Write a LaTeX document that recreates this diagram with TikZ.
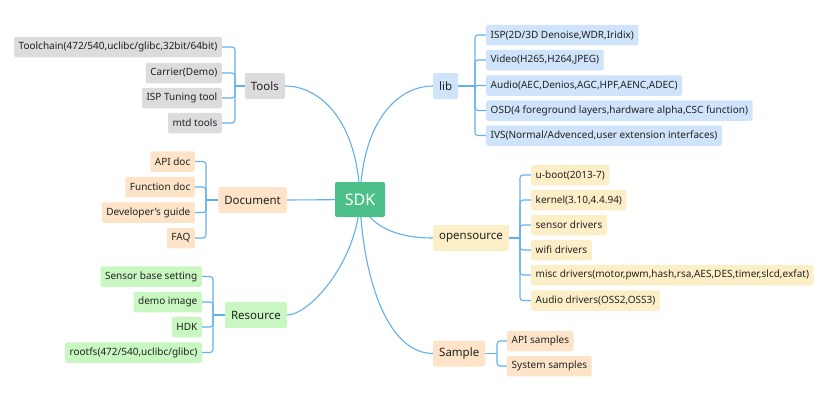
\documentclass[tikz,border=0pt]{standalone}
\usepackage{fontspec}
\setmainfont{Noto Sans}
\usetikzlibrary{backgrounds}
\definecolor{linkblue}{HTML}{62B0EE}
\definecolor{sdkgreen}{HTML}{4DBF88}
\definecolor{toolgray}{HTML}{DCDCDC}
\definecolor{docpeach}{HTML}{FDE4C8}
\definecolor{resgreen}{HTML}{C8F7C2}
\definecolor{libblue}{HTML}{CFE4FB}
\definecolor{osyellow}{HTML}{FCEFC7}
\definecolor{inkgray}{HTML}{222222}
\tikzstyle{root} = [rectangle, rounded corners=2pt, fill=sdkgreen, text=white,
minimum width=50pt, minimum height=35pt, font=\fontsize{16}{18}\selectfont]
\tikzstyle{branch} = [rectangle, rounded corners=2pt, minimum height=26pt,
inner xsep=6pt, text=inkgray, font=\fontsize{11.5}{13}\selectfont]
\tikzstyle{leaf} = [rectangle, rounded corners=2pt, minimum height=20.5pt,
inner xsep=4.5pt, text=inkgray, font=\fontsize{10}{11}\selectfont]
\tikzstyle{link} = [draw=linkblue, line width=1.1pt]
\tikzstyle{elbow} = [link, rounded corners=3pt]

\begin{document}
\begin{tikzpicture}[x=1pt,y=-1pt]
\useasboundingbox (0,0) rectangle (821,405);
% root
\node[root] (sdk) at (360,199.5) {SDK};
% Tools
\node[branch, fill=toolgray, anchor=east] (tools) at (285,86) {Tools};
\node[leaf, fill=toolgray, anchor=east] (toolchain) at (222,47) {Toolchain(472/540,uclibc/glibc,32bit/64bit)};
\node[leaf, fill=toolgray, anchor=east] (carrier) at (222,73) {Carrier(Demo)};
\node[leaf, fill=toolgray, anchor=east] (isptool) at (222,98) {ISP Tuning tool};
\node[leaf, fill=toolgray, anchor=east] (mtd) at (222,123) {mtd tools};
\coordinate (toolsj) at (235,86);
% Document
\node[branch, fill=docpeach, anchor=east] (document) at (287,200) {Document};
\node[leaf, fill=docpeach, anchor=east] (apidoc) at (195,161.5) {API doc};
\node[leaf, fill=docpeach, anchor=east] (funcdoc) at (195,187) {Function doc};
\node[leaf, fill=docpeach, anchor=east] (devguide) at (195,212.5) {Developer's guide};
\node[leaf, fill=docpeach, anchor=east] (faq) at (195,238) {FAQ};
\coordinate (documentj) at (206,200);
% Resource
\node[branch, fill=resgreen, anchor=east] (resource) at (287,315) {Resource};
\node[leaf, fill=resgreen, anchor=east] (sensorbase) at (202,276.5) {Sensor base setting};
\node[leaf, fill=resgreen, anchor=east] (demoimg) at (202,302) {demo image};
\node[leaf, fill=resgreen, anchor=east] (hdk) at (202,327) {HDK};
\node[leaf, fill=resgreen, anchor=east] (rootfs) at (202,352.5) {rootfs(472/540,uclibc/glibc)};
\coordinate (resourcej) at (213,315);
% lib
\node[branch, fill=libblue, anchor=west] (lib) at (433,86) {lib};
\node[leaf, fill=libblue, anchor=west] (isp) at (486,35) {ISP(2D/3D Denoise,WDR,Iridix)};
\node[leaf, fill=libblue, anchor=west] (video) at (486,60) {Video(H265,H264,JPEG)};
\node[leaf, fill=libblue, anchor=west] (audio) at (486,85.5) {Audio(AEC,Denios,AGC,HPF,AENC,ADEC)};
\node[leaf, fill=libblue, anchor=west] (osd) at (486,110.5) {OSD(4 foreground layers,hardware alpha,CSC function)};
\node[leaf, fill=libblue, anchor=west] (ivs) at (486,135.5) {IVS(Normal/Advenced,user extension interfaces)};
\coordinate (libj) at (475,86);
% opensource
\node[branch, fill=osyellow, anchor=west] (opensrc) at (433,238) {opensource};
\node[leaf, fill=osyellow, anchor=west] (uboot) at (531,175) {u-boot(2013-7)};
\node[leaf, fill=osyellow, anchor=west] (kernel) at (531,200) {kernel(3.10,4.4.94)};
\node[leaf, fill=osyellow, anchor=west] (sensordrv) at (531,225) {sensor drivers};
\node[leaf, fill=osyellow, anchor=west] (wifidrv) at (531,250) {wifi drivers};
\node[leaf, fill=osyellow, anchor=west] (miscdrv) at (531,275) {misc drivers(motor,pwm,hash,rsa,AES,DES,timer,slcd,exfat)};
\node[leaf, fill=osyellow, anchor=west] (audiodrv) at (531,300.5) {Audio drivers(OSS2,OSS3)};
\coordinate (opensrcj) at (520,238);
% Sample
\node[branch, fill=docpeach, anchor=west] (sample) at (433,353.5) {Sample};
\node[leaf, fill=docpeach, anchor=west] (apisample) at (507,341) {API samples};
\node[leaf, fill=docpeach, anchor=west] (syssample) at (507,366) {System samples};
\coordinate (samplej) at (497,353.5);
% connectors
\begin{scope}[on background layer]
\draw[link] (sdk.center) .. controls +(-2,-79) and +(35,0) .. (tools.east);
\draw[link] (sdk.center) .. controls +(2,-79) and +(-35,0) .. (lib.west);
\draw[link] (sdk.center) -- (document.east);
\draw[link] (sdk.center) .. controls +(-2,61) and +(23,0) .. (resource.east);
\draw[link] (sdk.center) .. controls +(2,71) and +(-48,0) .. (sample.west);
\draw[link] (sdk.center) .. controls +(8,26) and +(-38,0) .. (opensrc.west);
\draw[link] (tools.west) -- (toolsj);
\foreach \c in {toolchain,carrier,isptool,mtd}
  \draw[elbow] (toolsj) |- (\c.east);
\draw[link] (document.west) -- (documentj);
\foreach \c in {apidoc,funcdoc,devguide,faq}
  \draw[elbow] (documentj) |- (\c.east);
\draw[link] (resource.west) -- (resourcej);
\foreach \c in {sensorbase,demoimg,hdk,rootfs}
  \draw[elbow] (resourcej) |- (\c.east);
\draw[link] (lib.east) -- (libj);
\foreach \c in {isp,video,audio,osd,ivs}
  \draw[elbow] (libj) |- (\c.west);
\draw[link] (opensrc.east) -- (opensrcj);
\foreach \c in {uboot,kernel,sensordrv,wifidrv,miscdrv,audiodrv}
  \draw[elbow] (opensrcj) |- (\c.west);
\draw[link] (sample.east) -- (samplej);
\foreach \c in {apisample,syssample}
  \draw[elbow] (samplej) |- (\c.west);
\end{scope}
\end{tikzpicture}
\end{document}
